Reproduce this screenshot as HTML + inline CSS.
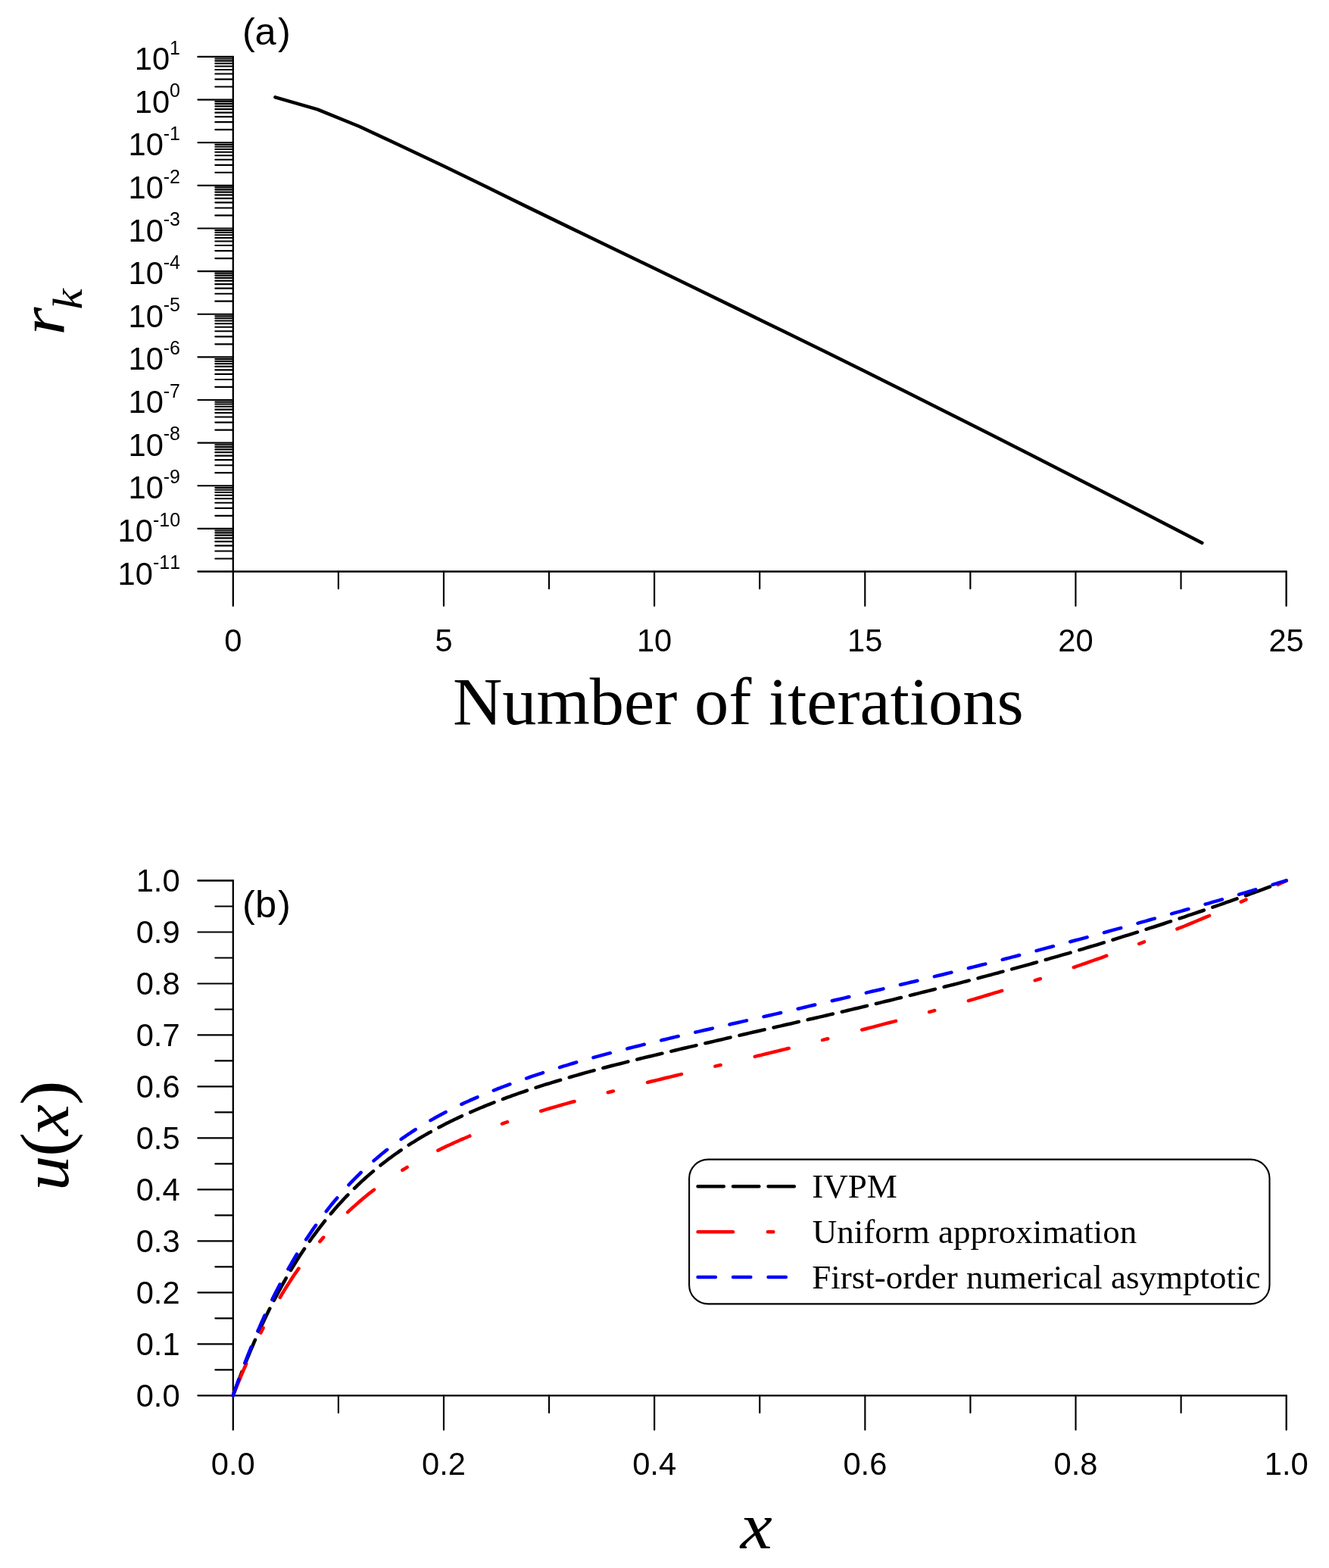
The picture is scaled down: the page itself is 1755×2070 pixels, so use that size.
<!DOCTYPE html>
<html lang="en"><head><meta charset="utf-8"><title>Figure</title>
<style>
html,body{margin:0;padding:0;background:#fff;overflow:hidden}
svg{display:block;font-kerning:none;font-variant-ligatures:none}
.sa{font-family:"Liberation Sans",sans-serif;fill:#000}
.se{font-family:"Liberation Serif",serif;fill:#000}
.cv{fill:none;stroke-width:4.5;stroke-linecap:round;stroke-linejoin:round}
</style></head>
<body>
<svg width="1755" height="2070" viewBox="0 0 1755 2070">
<rect width="1755" height="2070" fill="#fff"/>
<g id="plot-a">
<path d="M261.40 74.95 H307.80 V799.80" fill="none" stroke="#000" stroke-width="2.3" stroke-linecap="round" stroke-linejoin="miter"/>
<path d="M261.40 754.50 H1698.60 V799.80" fill="none" stroke="#000" stroke-width="2.3" stroke-linecap="round" stroke-linejoin="miter"/>
<line x1="284.30" y1="114.53" x2="307.80" y2="114.53" stroke="#000" stroke-width="2.15" stroke-linecap="round"/>
<line x1="284.30" y1="104.56" x2="307.80" y2="104.56" stroke="#000" stroke-width="2.15" stroke-linecap="round"/>
<line x1="284.30" y1="97.49" x2="307.80" y2="97.49" stroke="#000" stroke-width="2.15" stroke-linecap="round"/>
<line x1="284.30" y1="92.00" x2="307.80" y2="92.00" stroke="#000" stroke-width="2.15" stroke-linecap="round"/>
<line x1="284.30" y1="87.51" x2="307.80" y2="87.51" stroke="#000" stroke-width="2.15" stroke-linecap="round"/>
<line x1="284.30" y1="83.72" x2="307.80" y2="83.72" stroke="#000" stroke-width="2.15" stroke-linecap="round"/>
<line x1="284.30" y1="80.44" x2="307.80" y2="80.44" stroke="#000" stroke-width="2.15" stroke-linecap="round"/>
<line x1="284.30" y1="77.54" x2="307.80" y2="77.54" stroke="#000" stroke-width="2.15" stroke-linecap="round"/>
<text class="sa" transform="translate(238.00,92.05) scale(0.96,1)" font-size="43.4" text-anchor="end">10<tspan dy="-20.4" font-size="26.0">1</tspan></text>
<line x1="261.40" y1="131.58" x2="307.80" y2="131.58" stroke="#000" stroke-width="2.15" stroke-linecap="round"/>
<line x1="284.30" y1="171.16" x2="307.80" y2="171.16" stroke="#000" stroke-width="2.15" stroke-linecap="round"/>
<line x1="284.30" y1="161.19" x2="307.80" y2="161.19" stroke="#000" stroke-width="2.15" stroke-linecap="round"/>
<line x1="284.30" y1="154.11" x2="307.80" y2="154.11" stroke="#000" stroke-width="2.15" stroke-linecap="round"/>
<line x1="284.30" y1="148.63" x2="307.80" y2="148.63" stroke="#000" stroke-width="2.15" stroke-linecap="round"/>
<line x1="284.30" y1="144.14" x2="307.80" y2="144.14" stroke="#000" stroke-width="2.15" stroke-linecap="round"/>
<line x1="284.30" y1="140.35" x2="307.80" y2="140.35" stroke="#000" stroke-width="2.15" stroke-linecap="round"/>
<line x1="284.30" y1="137.07" x2="307.80" y2="137.07" stroke="#000" stroke-width="2.15" stroke-linecap="round"/>
<line x1="284.30" y1="134.17" x2="307.80" y2="134.17" stroke="#000" stroke-width="2.15" stroke-linecap="round"/>
<text class="sa" transform="translate(238.00,148.68) scale(0.96,1)" font-size="43.4" text-anchor="end">10<tspan dy="-20.4" font-size="26.0">0</tspan></text>
<line x1="261.40" y1="188.21" x2="307.80" y2="188.21" stroke="#000" stroke-width="2.15" stroke-linecap="round"/>
<line x1="284.30" y1="227.79" x2="307.80" y2="227.79" stroke="#000" stroke-width="2.15" stroke-linecap="round"/>
<line x1="284.30" y1="217.82" x2="307.80" y2="217.82" stroke="#000" stroke-width="2.15" stroke-linecap="round"/>
<line x1="284.30" y1="210.74" x2="307.80" y2="210.74" stroke="#000" stroke-width="2.15" stroke-linecap="round"/>
<line x1="284.30" y1="205.26" x2="307.80" y2="205.26" stroke="#000" stroke-width="2.15" stroke-linecap="round"/>
<line x1="284.30" y1="200.77" x2="307.80" y2="200.77" stroke="#000" stroke-width="2.15" stroke-linecap="round"/>
<line x1="284.30" y1="196.98" x2="307.80" y2="196.98" stroke="#000" stroke-width="2.15" stroke-linecap="round"/>
<line x1="284.30" y1="193.70" x2="307.80" y2="193.70" stroke="#000" stroke-width="2.15" stroke-linecap="round"/>
<line x1="284.30" y1="190.80" x2="307.80" y2="190.80" stroke="#000" stroke-width="2.15" stroke-linecap="round"/>
<text class="sa" transform="translate(238.00,205.31) scale(0.96,1)" font-size="43.4" text-anchor="end">10<tspan dy="-20.4" font-size="26.0">-1</tspan></text>
<line x1="261.40" y1="244.84" x2="307.80" y2="244.84" stroke="#000" stroke-width="2.15" stroke-linecap="round"/>
<line x1="284.30" y1="284.42" x2="307.80" y2="284.42" stroke="#000" stroke-width="2.15" stroke-linecap="round"/>
<line x1="284.30" y1="274.45" x2="307.80" y2="274.45" stroke="#000" stroke-width="2.15" stroke-linecap="round"/>
<line x1="284.30" y1="267.37" x2="307.80" y2="267.37" stroke="#000" stroke-width="2.15" stroke-linecap="round"/>
<line x1="284.30" y1="261.88" x2="307.80" y2="261.88" stroke="#000" stroke-width="2.15" stroke-linecap="round"/>
<line x1="284.30" y1="257.40" x2="307.80" y2="257.40" stroke="#000" stroke-width="2.15" stroke-linecap="round"/>
<line x1="284.30" y1="253.61" x2="307.80" y2="253.61" stroke="#000" stroke-width="2.15" stroke-linecap="round"/>
<line x1="284.30" y1="250.33" x2="307.80" y2="250.33" stroke="#000" stroke-width="2.15" stroke-linecap="round"/>
<line x1="284.30" y1="247.43" x2="307.80" y2="247.43" stroke="#000" stroke-width="2.15" stroke-linecap="round"/>
<text class="sa" transform="translate(238.00,261.94) scale(0.96,1)" font-size="43.4" text-anchor="end">10<tspan dy="-20.4" font-size="26.0">-2</tspan></text>
<line x1="261.40" y1="301.47" x2="307.80" y2="301.47" stroke="#000" stroke-width="2.15" stroke-linecap="round"/>
<line x1="284.30" y1="341.05" x2="307.80" y2="341.05" stroke="#000" stroke-width="2.15" stroke-linecap="round"/>
<line x1="284.30" y1="331.08" x2="307.80" y2="331.08" stroke="#000" stroke-width="2.15" stroke-linecap="round"/>
<line x1="284.30" y1="324.00" x2="307.80" y2="324.00" stroke="#000" stroke-width="2.15" stroke-linecap="round"/>
<line x1="284.30" y1="318.51" x2="307.80" y2="318.51" stroke="#000" stroke-width="2.15" stroke-linecap="round"/>
<line x1="284.30" y1="314.03" x2="307.80" y2="314.03" stroke="#000" stroke-width="2.15" stroke-linecap="round"/>
<line x1="284.30" y1="310.24" x2="307.80" y2="310.24" stroke="#000" stroke-width="2.15" stroke-linecap="round"/>
<line x1="284.30" y1="306.95" x2="307.80" y2="306.95" stroke="#000" stroke-width="2.15" stroke-linecap="round"/>
<line x1="284.30" y1="304.06" x2="307.80" y2="304.06" stroke="#000" stroke-width="2.15" stroke-linecap="round"/>
<text class="sa" transform="translate(238.00,318.57) scale(0.96,1)" font-size="43.4" text-anchor="end">10<tspan dy="-20.4" font-size="26.0">-3</tspan></text>
<line x1="261.40" y1="358.10" x2="307.80" y2="358.10" stroke="#000" stroke-width="2.15" stroke-linecap="round"/>
<line x1="284.30" y1="397.68" x2="307.80" y2="397.68" stroke="#000" stroke-width="2.15" stroke-linecap="round"/>
<line x1="284.30" y1="387.71" x2="307.80" y2="387.71" stroke="#000" stroke-width="2.15" stroke-linecap="round"/>
<line x1="284.30" y1="380.63" x2="307.80" y2="380.63" stroke="#000" stroke-width="2.15" stroke-linecap="round"/>
<line x1="284.30" y1="375.14" x2="307.80" y2="375.14" stroke="#000" stroke-width="2.15" stroke-linecap="round"/>
<line x1="284.30" y1="370.66" x2="307.80" y2="370.66" stroke="#000" stroke-width="2.15" stroke-linecap="round"/>
<line x1="284.30" y1="366.87" x2="307.80" y2="366.87" stroke="#000" stroke-width="2.15" stroke-linecap="round"/>
<line x1="284.30" y1="363.58" x2="307.80" y2="363.58" stroke="#000" stroke-width="2.15" stroke-linecap="round"/>
<line x1="284.30" y1="360.69" x2="307.80" y2="360.69" stroke="#000" stroke-width="2.15" stroke-linecap="round"/>
<text class="sa" transform="translate(238.00,375.20) scale(0.96,1)" font-size="43.4" text-anchor="end">10<tspan dy="-20.4" font-size="26.0">-4</tspan></text>
<line x1="261.40" y1="414.72" x2="307.80" y2="414.72" stroke="#000" stroke-width="2.15" stroke-linecap="round"/>
<line x1="284.30" y1="454.31" x2="307.80" y2="454.31" stroke="#000" stroke-width="2.15" stroke-linecap="round"/>
<line x1="284.30" y1="444.34" x2="307.80" y2="444.34" stroke="#000" stroke-width="2.15" stroke-linecap="round"/>
<line x1="284.30" y1="437.26" x2="307.80" y2="437.26" stroke="#000" stroke-width="2.15" stroke-linecap="round"/>
<line x1="284.30" y1="431.77" x2="307.80" y2="431.77" stroke="#000" stroke-width="2.15" stroke-linecap="round"/>
<line x1="284.30" y1="427.29" x2="307.80" y2="427.29" stroke="#000" stroke-width="2.15" stroke-linecap="round"/>
<line x1="284.30" y1="423.50" x2="307.80" y2="423.50" stroke="#000" stroke-width="2.15" stroke-linecap="round"/>
<line x1="284.30" y1="420.21" x2="307.80" y2="420.21" stroke="#000" stroke-width="2.15" stroke-linecap="round"/>
<line x1="284.30" y1="417.32" x2="307.80" y2="417.32" stroke="#000" stroke-width="2.15" stroke-linecap="round"/>
<text class="sa" transform="translate(238.00,431.82) scale(0.96,1)" font-size="43.4" text-anchor="end">10<tspan dy="-20.4" font-size="26.0">-5</tspan></text>
<line x1="261.40" y1="471.35" x2="307.80" y2="471.35" stroke="#000" stroke-width="2.15" stroke-linecap="round"/>
<line x1="284.30" y1="510.94" x2="307.80" y2="510.94" stroke="#000" stroke-width="2.15" stroke-linecap="round"/>
<line x1="284.30" y1="500.96" x2="307.80" y2="500.96" stroke="#000" stroke-width="2.15" stroke-linecap="round"/>
<line x1="284.30" y1="493.89" x2="307.80" y2="493.89" stroke="#000" stroke-width="2.15" stroke-linecap="round"/>
<line x1="284.30" y1="488.40" x2="307.80" y2="488.40" stroke="#000" stroke-width="2.15" stroke-linecap="round"/>
<line x1="284.30" y1="483.92" x2="307.80" y2="483.92" stroke="#000" stroke-width="2.15" stroke-linecap="round"/>
<line x1="284.30" y1="480.13" x2="307.80" y2="480.13" stroke="#000" stroke-width="2.15" stroke-linecap="round"/>
<line x1="284.30" y1="476.84" x2="307.80" y2="476.84" stroke="#000" stroke-width="2.15" stroke-linecap="round"/>
<line x1="284.30" y1="473.95" x2="307.80" y2="473.95" stroke="#000" stroke-width="2.15" stroke-linecap="round"/>
<text class="sa" transform="translate(238.00,488.45) scale(0.96,1)" font-size="43.4" text-anchor="end">10<tspan dy="-20.4" font-size="26.0">-6</tspan></text>
<line x1="261.40" y1="527.98" x2="307.80" y2="527.98" stroke="#000" stroke-width="2.15" stroke-linecap="round"/>
<line x1="284.30" y1="567.57" x2="307.80" y2="567.57" stroke="#000" stroke-width="2.15" stroke-linecap="round"/>
<line x1="284.30" y1="557.59" x2="307.80" y2="557.59" stroke="#000" stroke-width="2.15" stroke-linecap="round"/>
<line x1="284.30" y1="550.52" x2="307.80" y2="550.52" stroke="#000" stroke-width="2.15" stroke-linecap="round"/>
<line x1="284.30" y1="545.03" x2="307.80" y2="545.03" stroke="#000" stroke-width="2.15" stroke-linecap="round"/>
<line x1="284.30" y1="540.55" x2="307.80" y2="540.55" stroke="#000" stroke-width="2.15" stroke-linecap="round"/>
<line x1="284.30" y1="536.76" x2="307.80" y2="536.76" stroke="#000" stroke-width="2.15" stroke-linecap="round"/>
<line x1="284.30" y1="533.47" x2="307.80" y2="533.47" stroke="#000" stroke-width="2.15" stroke-linecap="round"/>
<line x1="284.30" y1="530.57" x2="307.80" y2="530.57" stroke="#000" stroke-width="2.15" stroke-linecap="round"/>
<text class="sa" transform="translate(238.00,545.08) scale(0.96,1)" font-size="43.4" text-anchor="end">10<tspan dy="-20.4" font-size="26.0">-7</tspan></text>
<line x1="261.40" y1="584.61" x2="307.80" y2="584.61" stroke="#000" stroke-width="2.15" stroke-linecap="round"/>
<line x1="284.30" y1="624.19" x2="307.80" y2="624.19" stroke="#000" stroke-width="2.15" stroke-linecap="round"/>
<line x1="284.30" y1="614.22" x2="307.80" y2="614.22" stroke="#000" stroke-width="2.15" stroke-linecap="round"/>
<line x1="284.30" y1="607.15" x2="307.80" y2="607.15" stroke="#000" stroke-width="2.15" stroke-linecap="round"/>
<line x1="284.30" y1="601.66" x2="307.80" y2="601.66" stroke="#000" stroke-width="2.15" stroke-linecap="round"/>
<line x1="284.30" y1="597.18" x2="307.80" y2="597.18" stroke="#000" stroke-width="2.15" stroke-linecap="round"/>
<line x1="284.30" y1="593.38" x2="307.80" y2="593.38" stroke="#000" stroke-width="2.15" stroke-linecap="round"/>
<line x1="284.30" y1="590.10" x2="307.80" y2="590.10" stroke="#000" stroke-width="2.15" stroke-linecap="round"/>
<line x1="284.30" y1="587.20" x2="307.80" y2="587.20" stroke="#000" stroke-width="2.15" stroke-linecap="round"/>
<text class="sa" transform="translate(238.00,601.71) scale(0.96,1)" font-size="43.4" text-anchor="end">10<tspan dy="-20.4" font-size="26.0">-8</tspan></text>
<line x1="261.40" y1="641.24" x2="307.80" y2="641.24" stroke="#000" stroke-width="2.15" stroke-linecap="round"/>
<line x1="284.30" y1="680.82" x2="307.80" y2="680.82" stroke="#000" stroke-width="2.15" stroke-linecap="round"/>
<line x1="284.30" y1="670.85" x2="307.80" y2="670.85" stroke="#000" stroke-width="2.15" stroke-linecap="round"/>
<line x1="284.30" y1="663.78" x2="307.80" y2="663.78" stroke="#000" stroke-width="2.15" stroke-linecap="round"/>
<line x1="284.30" y1="658.29" x2="307.80" y2="658.29" stroke="#000" stroke-width="2.15" stroke-linecap="round"/>
<line x1="284.30" y1="653.80" x2="307.80" y2="653.80" stroke="#000" stroke-width="2.15" stroke-linecap="round"/>
<line x1="284.30" y1="650.01" x2="307.80" y2="650.01" stroke="#000" stroke-width="2.15" stroke-linecap="round"/>
<line x1="284.30" y1="646.73" x2="307.80" y2="646.73" stroke="#000" stroke-width="2.15" stroke-linecap="round"/>
<line x1="284.30" y1="643.83" x2="307.80" y2="643.83" stroke="#000" stroke-width="2.15" stroke-linecap="round"/>
<text class="sa" transform="translate(238.00,658.34) scale(0.96,1)" font-size="43.4" text-anchor="end">10<tspan dy="-20.4" font-size="26.0">-9</tspan></text>
<line x1="261.40" y1="697.87" x2="307.80" y2="697.87" stroke="#000" stroke-width="2.15" stroke-linecap="round"/>
<line x1="284.30" y1="737.45" x2="307.80" y2="737.45" stroke="#000" stroke-width="2.15" stroke-linecap="round"/>
<line x1="284.30" y1="727.48" x2="307.80" y2="727.48" stroke="#000" stroke-width="2.15" stroke-linecap="round"/>
<line x1="284.30" y1="720.41" x2="307.80" y2="720.41" stroke="#000" stroke-width="2.15" stroke-linecap="round"/>
<line x1="284.30" y1="714.92" x2="307.80" y2="714.92" stroke="#000" stroke-width="2.15" stroke-linecap="round"/>
<line x1="284.30" y1="710.43" x2="307.80" y2="710.43" stroke="#000" stroke-width="2.15" stroke-linecap="round"/>
<line x1="284.30" y1="706.64" x2="307.80" y2="706.64" stroke="#000" stroke-width="2.15" stroke-linecap="round"/>
<line x1="284.30" y1="703.36" x2="307.80" y2="703.36" stroke="#000" stroke-width="2.15" stroke-linecap="round"/>
<line x1="284.30" y1="700.46" x2="307.80" y2="700.46" stroke="#000" stroke-width="2.15" stroke-linecap="round"/>
<text class="sa" transform="translate(238.00,714.97) scale(0.96,1)" font-size="43.4" text-anchor="end">10<tspan dy="-20.4" font-size="26.0">-10</tspan></text>
<text class="sa" transform="translate(238.00,771.60) scale(0.96,1)" font-size="43.4" text-anchor="end">10<tspan dy="-20.4" font-size="26.0">-11</tspan></text>
<text class="sa" transform="translate(307.80,859.90) scale(0.96,1)" font-size="43.4" text-anchor="middle">0</text>
<line x1="446.88" y1="754.50" x2="446.88" y2="777.10" stroke="#000" stroke-width="2.15" stroke-linecap="round"/>
<line x1="585.96" y1="754.50" x2="585.96" y2="799.80" stroke="#000" stroke-width="2.15" stroke-linecap="round"/>
<text class="sa" transform="translate(585.96,859.90) scale(0.96,1)" font-size="43.4" text-anchor="middle">5</text>
<line x1="725.04" y1="754.50" x2="725.04" y2="777.10" stroke="#000" stroke-width="2.15" stroke-linecap="round"/>
<line x1="864.12" y1="754.50" x2="864.12" y2="799.80" stroke="#000" stroke-width="2.15" stroke-linecap="round"/>
<text class="sa" transform="translate(864.12,859.90) scale(0.96,1)" font-size="43.4" text-anchor="middle">10</text>
<line x1="1003.20" y1="754.50" x2="1003.20" y2="777.10" stroke="#000" stroke-width="2.15" stroke-linecap="round"/>
<line x1="1142.28" y1="754.50" x2="1142.28" y2="799.80" stroke="#000" stroke-width="2.15" stroke-linecap="round"/>
<text class="sa" transform="translate(1142.28,859.90) scale(0.96,1)" font-size="43.4" text-anchor="middle">15</text>
<line x1="1281.36" y1="754.50" x2="1281.36" y2="777.10" stroke="#000" stroke-width="2.15" stroke-linecap="round"/>
<line x1="1420.44" y1="754.50" x2="1420.44" y2="799.80" stroke="#000" stroke-width="2.15" stroke-linecap="round"/>
<text class="sa" transform="translate(1420.44,859.90) scale(0.96,1)" font-size="43.4" text-anchor="middle">20</text>
<line x1="1559.52" y1="754.50" x2="1559.52" y2="777.10" stroke="#000" stroke-width="2.15" stroke-linecap="round"/>
<text class="sa" transform="translate(1698.60,859.90) scale(0.96,1)" font-size="43.4" text-anchor="middle">25</text>
<text class="sa" y="58.5" x="320 336.55 366.9" font-size="50.5">(a)</text>
<text class="se" transform="translate(597.9,955.9) scale(1.0191,1)" font-size="88.8">Number of iterations</text>
<text class="se" transform="translate(85,442.5) rotate(-90) scale(1.12,1)" font-size="85" font-style="italic" x="0">r<tspan x="30.3" dy="22.9" font-size="54.8">k</tspan></text>
<polyline fill="none" stroke="#000" stroke-width="4.5" stroke-linecap="round" stroke-linejoin="round" points="363.43,128.30 419.06,144.45 474.70,167.00 530.33,193.00 585.96,219.20 641.59,246.30 697.22,273.64 752.86,300.63 808.49,327.48 864.12,354.33 919.75,381.30 975.38,408.38 1031.02,435.53 1086.65,462.81 1142.28,490.30 1197.91,518.03 1253.54,545.96 1309.18,574.06 1364.81,602.30 1420.44,630.68 1476.07,659.22 1531.70,687.91 1587.34,716.75"/>
</g>
<g id="plot-b">
<path d="M261.40 1162.50 H307.80 V1887.60" fill="none" stroke="#000" stroke-width="2.3" stroke-linecap="round" stroke-linejoin="miter"/>
<path d="M261.40 1842.30 H1698.70 V1887.60" fill="none" stroke="#000" stroke-width="2.3" stroke-linecap="round" stroke-linejoin="miter"/>
<text class="sa" transform="translate(237.60,1177.40) scale(0.96,1)" font-size="43.4" text-anchor="end">1.0</text>
<line x1="284.30" y1="1196.49" x2="307.80" y2="1196.49" stroke="#000" stroke-width="2.15" stroke-linecap="round"/>
<line x1="261.40" y1="1230.48" x2="307.80" y2="1230.48" stroke="#000" stroke-width="2.15" stroke-linecap="round"/>
<text class="sa" transform="translate(237.60,1245.38) scale(0.96,1)" font-size="43.4" text-anchor="end">0.9</text>
<line x1="284.30" y1="1264.47" x2="307.80" y2="1264.47" stroke="#000" stroke-width="2.15" stroke-linecap="round"/>
<line x1="261.40" y1="1298.46" x2="307.80" y2="1298.46" stroke="#000" stroke-width="2.15" stroke-linecap="round"/>
<text class="sa" transform="translate(237.60,1313.36) scale(0.96,1)" font-size="43.4" text-anchor="end">0.8</text>
<line x1="284.30" y1="1332.45" x2="307.80" y2="1332.45" stroke="#000" stroke-width="2.15" stroke-linecap="round"/>
<line x1="261.40" y1="1366.44" x2="307.80" y2="1366.44" stroke="#000" stroke-width="2.15" stroke-linecap="round"/>
<text class="sa" transform="translate(237.60,1381.34) scale(0.96,1)" font-size="43.4" text-anchor="end">0.7</text>
<line x1="284.30" y1="1400.43" x2="307.80" y2="1400.43" stroke="#000" stroke-width="2.15" stroke-linecap="round"/>
<line x1="261.40" y1="1434.42" x2="307.80" y2="1434.42" stroke="#000" stroke-width="2.15" stroke-linecap="round"/>
<text class="sa" transform="translate(237.60,1449.32) scale(0.96,1)" font-size="43.4" text-anchor="end">0.6</text>
<line x1="284.30" y1="1468.41" x2="307.80" y2="1468.41" stroke="#000" stroke-width="2.15" stroke-linecap="round"/>
<line x1="261.40" y1="1502.40" x2="307.80" y2="1502.40" stroke="#000" stroke-width="2.15" stroke-linecap="round"/>
<text class="sa" transform="translate(237.60,1517.30) scale(0.96,1)" font-size="43.4" text-anchor="end">0.5</text>
<line x1="284.30" y1="1536.39" x2="307.80" y2="1536.39" stroke="#000" stroke-width="2.15" stroke-linecap="round"/>
<line x1="261.40" y1="1570.38" x2="307.80" y2="1570.38" stroke="#000" stroke-width="2.15" stroke-linecap="round"/>
<text class="sa" transform="translate(237.60,1585.28) scale(0.96,1)" font-size="43.4" text-anchor="end">0.4</text>
<line x1="284.30" y1="1604.37" x2="307.80" y2="1604.37" stroke="#000" stroke-width="2.15" stroke-linecap="round"/>
<line x1="261.40" y1="1638.36" x2="307.80" y2="1638.36" stroke="#000" stroke-width="2.15" stroke-linecap="round"/>
<text class="sa" transform="translate(237.60,1653.26) scale(0.96,1)" font-size="43.4" text-anchor="end">0.3</text>
<line x1="284.30" y1="1672.35" x2="307.80" y2="1672.35" stroke="#000" stroke-width="2.15" stroke-linecap="round"/>
<line x1="261.40" y1="1706.34" x2="307.80" y2="1706.34" stroke="#000" stroke-width="2.15" stroke-linecap="round"/>
<text class="sa" transform="translate(237.60,1721.24) scale(0.96,1)" font-size="43.4" text-anchor="end">0.2</text>
<line x1="284.30" y1="1740.33" x2="307.80" y2="1740.33" stroke="#000" stroke-width="2.15" stroke-linecap="round"/>
<line x1="261.40" y1="1774.32" x2="307.80" y2="1774.32" stroke="#000" stroke-width="2.15" stroke-linecap="round"/>
<text class="sa" transform="translate(237.60,1789.22) scale(0.96,1)" font-size="43.4" text-anchor="end">0.1</text>
<line x1="284.30" y1="1808.31" x2="307.80" y2="1808.31" stroke="#000" stroke-width="2.15" stroke-linecap="round"/>
<text class="sa" transform="translate(237.60,1857.20) scale(0.96,1)" font-size="43.4" text-anchor="end">0.0</text>
<text class="sa" transform="translate(307.80,1947.30) scale(0.96,1)" font-size="43.4" text-anchor="middle">0.0</text>
<line x1="446.89" y1="1842.30" x2="446.89" y2="1864.90" stroke="#000" stroke-width="2.15" stroke-linecap="round"/>
<line x1="585.98" y1="1842.30" x2="585.98" y2="1887.60" stroke="#000" stroke-width="2.15" stroke-linecap="round"/>
<text class="sa" transform="translate(585.98,1947.30) scale(0.96,1)" font-size="43.4" text-anchor="middle">0.2</text>
<line x1="725.07" y1="1842.30" x2="725.07" y2="1864.90" stroke="#000" stroke-width="2.15" stroke-linecap="round"/>
<line x1="864.16" y1="1842.30" x2="864.16" y2="1887.60" stroke="#000" stroke-width="2.15" stroke-linecap="round"/>
<text class="sa" transform="translate(864.16,1947.30) scale(0.96,1)" font-size="43.4" text-anchor="middle">0.4</text>
<line x1="1003.25" y1="1842.30" x2="1003.25" y2="1864.90" stroke="#000" stroke-width="2.15" stroke-linecap="round"/>
<line x1="1142.34" y1="1842.30" x2="1142.34" y2="1887.60" stroke="#000" stroke-width="2.15" stroke-linecap="round"/>
<text class="sa" transform="translate(1142.34,1947.30) scale(0.96,1)" font-size="43.4" text-anchor="middle">0.6</text>
<line x1="1281.43" y1="1842.30" x2="1281.43" y2="1864.90" stroke="#000" stroke-width="2.15" stroke-linecap="round"/>
<line x1="1420.52" y1="1842.30" x2="1420.52" y2="1887.60" stroke="#000" stroke-width="2.15" stroke-linecap="round"/>
<text class="sa" transform="translate(1420.52,1947.30) scale(0.96,1)" font-size="43.4" text-anchor="middle">0.8</text>
<line x1="1559.61" y1="1842.30" x2="1559.61" y2="1864.90" stroke="#000" stroke-width="2.15" stroke-linecap="round"/>
<text class="sa" transform="translate(1698.70,1947.30) scale(0.96,1)" font-size="43.4" text-anchor="middle">1.0</text>
<text class="sa" y="1211.1" x="320 336.95 366.9" font-size="50.5">(b)</text>
<text class="se" transform="translate(977.8,2044.1) scale(1.081,1)" font-size="87.6" font-style="italic">x</text>
<text class="se" transform="translate(90,1571) rotate(-90) scale(1.066,1)" font-size="90.5"><tspan x="-0.64" font-style="italic" font-size="86.3">u</tspan><tspan x="41.25">(</tspan><tspan x="67.65" font-style="italic" font-size="86.3">x</tspan><tspan x="105.3">)</tspan></text>
<g transform="scale(1.02,1)">
<polyline class="cv" stroke="#000" stroke-dasharray="33.41 12.02" stroke-dashoffset="0" points="301.8,1842.3 304.0,1835.9 306.3,1829.6 308.6,1823.4 310.9,1817.3 313.1,1811.3 315.4,1805.4 317.7,1799.6 319.9,1793.9 322.2,1788.3 324.5,1782.7 326.8,1777.3 329.0,1771.9 331.3,1766.6 333.6,1761.4 335.9,1756.3 338.1,1751.2 340.4,1746.3 342.7,1741.4 344.9,1736.6 347.2,1731.8 349.5,1727.1 351.8,1722.5 354.0,1718.0 356.3,1713.6 358.6,1709.2 360.9,1704.8 363.1,1700.6 365.4,1696.4 367.7,1692.3 369.9,1688.2 372.2,1684.2 374.5,1680.3 376.8,1676.4 379.0,1672.6 381.3,1668.8 383.6,1665.1 385.9,1661.4 388.1,1657.8 390.4,1654.3 392.7,1650.8 394.9,1647.4 397.2,1644.0 399.5,1640.6 401.8,1637.3 404.0,1634.1 406.3,1630.9 408.6,1627.8 410.9,1624.7 413.1,1621.6 415.4,1618.6 417.7,1615.6 419.9,1612.7 422.2,1609.8 424.5,1607.0 426.8,1604.2 429.0,1601.5 431.3,1598.7 433.6,1596.1 435.9,1593.4 438.1,1590.8 440.4,1588.3 442.7,1585.7 444.9,1583.2 447.2,1580.8 449.5,1578.4 451.8,1576.0 454.0,1573.6 456.3,1571.3 458.6,1569.0 460.9,1566.8 463.1,1564.6 465.4,1562.4 467.7,1560.2 469.9,1558.1 472.2,1556.0 474.5,1553.9 476.8,1551.9 479.0,1549.9 481.3,1547.9 483.6,1545.9 485.9,1544.0 488.1,1542.1 490.4,1540.2 492.7,1538.3 494.9,1536.5 497.2,1534.7 499.5,1532.9 501.8,1531.1 504.0,1529.4 506.3,1527.7 508.6,1526.0 510.9,1524.3 513.1,1522.7 515.4,1521.1 517.7,1519.4 519.9,1517.9 522.2,1516.3 524.5,1514.7 526.8,1513.2 529.0,1511.7 531.3,1510.2 533.6,1508.7 535.9,1507.3 538.1,1505.8 540.4,1504.4 542.7,1503.0 544.9,1501.6 547.2,1500.3 549.5,1498.9 551.8,1497.6 554.0,1496.3 556.3,1494.9 558.6,1493.7 560.9,1492.4 563.1,1491.1 565.4,1489.9 567.7,1488.6 569.9,1487.4 572.2,1486.2 574.5,1485.0 576.8,1483.8 579.0,1482.6 581.3,1481.5 583.6,1480.3 585.9,1479.2 588.1,1478.1 590.4,1477.0 592.7,1475.9 594.9,1474.8 597.2,1473.7 599.5,1472.6 601.8,1471.6 604.0,1470.5 606.3,1469.5 608.6,1468.5 610.9,1467.5 613.1,1466.5 615.4,1465.5 617.7,1464.5 619.9,1463.5 622.2,1462.5 624.5,1461.6 626.8,1460.6 629.0,1459.7 631.3,1458.7 633.6,1457.8 635.9,1456.9 638.1,1456.0 640.4,1455.1 642.7,1454.2 644.9,1453.3 647.2,1452.4 649.5,1451.5 651.8,1450.7 654.0,1449.8 656.3,1448.9 658.6,1448.1 660.9,1447.3 663.1,1446.4 665.4,1445.6 667.7,1444.8 669.9,1444.0 672.2,1443.2 674.5,1442.4 676.8,1441.6 679.0,1440.8 681.3,1440.0 683.6,1439.2 685.9,1438.4 688.1,1437.7 690.4,1436.9 692.7,1436.1 694.9,1435.4 697.2,1434.7 699.5,1433.9 701.8,1433.2 704.0,1432.4 706.3,1431.7 708.6,1431.0 710.9,1430.3 715.4,1428.9 719.9,1427.5 724.5,1426.1 729.0,1424.7 733.6,1423.3 738.1,1422.0 742.7,1420.6 747.2,1419.3 751.8,1418.0 756.3,1416.7 760.9,1415.4 765.4,1414.2 769.9,1412.9 774.5,1411.7 779.0,1410.4 783.6,1409.2 788.1,1408.0 792.7,1406.8 797.2,1405.6 801.8,1404.5 806.3,1403.3 810.9,1402.1 815.4,1401.0 819.9,1399.8 824.5,1398.7 829.0,1397.5 833.6,1396.4 838.1,1395.3 842.7,1394.2 847.2,1393.1 851.8,1392.0 856.3,1390.9 860.9,1389.8 865.4,1388.7 869.9,1387.6 874.5,1386.5 879.0,1385.4 883.6,1384.3 888.1,1383.2 892.7,1382.1 897.2,1381.1 901.8,1380.0 906.3,1378.9 910.9,1377.8 915.4,1376.8 919.9,1375.7 924.5,1374.6 929.0,1373.5 933.6,1372.5 938.1,1371.4 942.7,1370.3 947.2,1369.2 951.8,1368.2 956.3,1367.1 960.9,1366.0 965.4,1365.0 969.9,1363.9 974.5,1362.8 979.0,1361.8 983.6,1360.7 988.1,1359.6 992.7,1358.6 997.2,1357.5 1001.8,1356.5 1006.3,1355.4 1010.9,1354.4 1015.4,1353.3 1019.9,1352.2 1024.5,1351.2 1029.0,1350.1 1033.6,1349.0 1038.1,1348.0 1042.7,1346.9 1047.2,1345.8 1051.8,1344.8 1056.3,1343.7 1060.9,1342.6 1065.4,1341.6 1069.9,1340.5 1074.5,1339.4 1079.0,1338.3 1083.6,1337.2 1088.1,1336.2 1092.7,1335.1 1097.2,1334.0 1101.8,1332.9 1106.3,1331.8 1110.9,1330.7 1115.4,1329.6 1119.9,1328.5 1124.5,1327.4 1129.0,1326.3 1133.6,1325.2 1138.1,1324.1 1142.7,1322.9 1147.2,1321.8 1151.8,1320.7 1156.3,1319.6 1160.8,1318.4 1165.4,1317.3 1169.9,1316.2 1174.5,1315.0 1179.0,1313.9 1183.6,1312.7 1188.1,1311.6 1192.7,1310.4 1197.2,1309.3 1201.8,1308.1 1206.3,1307.0 1210.8,1305.8 1215.4,1304.7 1219.9,1303.5 1224.5,1302.3 1229.0,1301.1 1233.6,1300.0 1238.1,1298.8 1242.7,1297.6 1247.2,1296.4 1251.8,1295.2 1256.3,1294.0 1260.8,1292.8 1265.4,1291.6 1269.9,1290.3 1274.5,1289.1 1279.0,1287.9 1283.6,1286.7 1288.1,1285.4 1292.7,1284.2 1297.2,1282.9 1301.8,1281.7 1306.3,1280.4 1310.8,1279.2 1315.4,1277.9 1319.9,1276.6 1324.5,1275.4 1329.0,1274.1 1333.6,1272.8 1338.1,1271.5 1342.7,1270.2 1347.2,1268.9 1351.8,1267.6 1356.3,1266.3 1360.8,1264.9 1365.4,1263.6 1369.9,1262.3 1374.5,1260.9 1379.0,1259.6 1383.6,1258.3 1388.1,1256.9 1392.7,1255.5 1397.2,1254.2 1401.8,1252.8 1406.3,1251.4 1410.8,1250.0 1415.4,1248.7 1419.9,1247.3 1424.5,1245.8 1429.0,1244.4 1433.6,1243.0 1438.1,1241.6 1442.7,1240.1 1447.2,1238.7 1451.8,1237.2 1456.3,1235.7 1460.8,1234.3 1465.4,1232.8 1469.9,1231.4 1474.5,1229.9 1479.0,1228.4 1483.6,1226.9 1488.1,1225.4 1492.7,1224.0 1497.2,1222.5 1501.8,1221.0 1506.3,1219.5 1510.8,1217.9 1515.4,1216.4 1519.9,1214.9 1524.5,1213.4 1529.0,1211.8 1533.6,1210.3 1538.1,1208.7 1542.7,1207.2 1547.2,1205.6 1551.8,1204.0 1556.3,1202.5 1560.8,1200.9 1565.4,1199.3 1569.9,1197.7 1574.5,1196.1 1579.0,1194.5 1583.6,1192.8 1588.1,1191.2 1592.7,1189.6 1597.2,1187.9 1601.8,1186.3 1606.3,1184.6 1610.8,1183.0 1615.4,1181.3 1619.9,1179.6 1624.5,1178.0 1629.0,1176.3 1633.6,1174.6 1638.1,1172.9 1642.7,1171.2 1647.2,1169.4 1651.8,1167.7 1656.3,1166.0 1660.8,1164.3 1665.4,1162.5"/>
<polyline class="cv" stroke="#f00" stroke-dasharray="45.33 44.85 7.23 45.73" stroke-dashoffset="0" points="301.8,1842.3 304.0,1836.4 306.3,1830.6 308.6,1824.9 310.9,1819.3 313.1,1813.8 315.4,1808.3 317.7,1803.0 319.9,1797.7 322.2,1792.5 324.5,1787.4 326.8,1782.4 329.0,1777.4 331.3,1772.6 333.6,1767.8 335.9,1763.1 338.1,1758.4 340.4,1753.8 342.7,1749.3 344.9,1744.9 347.2,1740.5 349.5,1736.2 351.8,1732.0 354.0,1727.8 356.3,1723.7 358.6,1719.7 360.9,1715.7 363.1,1711.8 365.4,1707.9 367.7,1704.1 369.9,1700.4 372.2,1696.7 374.5,1693.1 376.8,1689.5 379.0,1686.0 381.3,1682.6 383.6,1679.2 385.9,1675.8 388.1,1672.5 390.4,1669.3 392.7,1666.1 394.9,1663.1 397.2,1660.0 399.5,1657.1 401.8,1654.1 404.0,1651.3 406.3,1648.5 408.6,1645.7 410.9,1642.9 413.1,1640.2 415.4,1637.5 417.7,1634.8 419.9,1632.2 422.2,1629.6 424.5,1627.0 426.8,1624.4 429.0,1621.9 431.3,1619.5 433.6,1617.0 435.9,1614.6 438.1,1612.3 440.4,1609.9 442.7,1607.6 444.9,1605.3 447.2,1603.1 449.5,1600.9 451.8,1598.7 454.0,1596.6 456.3,1594.4 458.6,1592.4 460.9,1590.3 463.1,1588.3 465.4,1586.3 467.7,1584.3 469.9,1582.3 472.2,1580.4 474.5,1578.5 476.8,1576.6 479.0,1574.8 481.3,1573.0 483.6,1571.2 485.9,1569.4 488.1,1567.7 490.4,1566.0 492.7,1564.3 494.9,1562.6 497.2,1560.9 499.5,1559.3 501.8,1557.7 504.0,1556.1 506.3,1554.5 508.6,1552.9 510.9,1551.4 513.1,1549.9 515.4,1548.4 517.7,1546.9 519.9,1545.4 522.2,1544.0 524.5,1542.6 526.8,1541.1 529.0,1539.7 531.3,1538.4 533.6,1537.0 535.9,1535.7 538.1,1534.3 540.4,1533.0 542.7,1531.7 544.9,1530.4 547.2,1529.2 549.5,1527.9 551.8,1526.7 554.0,1525.5 556.3,1524.2 558.6,1523.0 560.9,1521.9 563.1,1520.7 565.4,1519.5 567.7,1518.4 569.9,1517.2 572.2,1516.1 574.5,1515.0 576.8,1513.9 579.0,1512.8 581.3,1511.7 583.6,1510.7 585.9,1509.6 588.1,1508.5 590.4,1507.5 592.7,1506.5 594.9,1505.5 597.2,1504.4 599.5,1503.4 601.8,1502.5 604.0,1501.5 606.3,1500.5 608.6,1499.5 610.9,1498.6 613.1,1497.6 615.4,1496.7 617.7,1495.8 619.9,1494.9 622.2,1494.0 624.5,1493.1 626.8,1492.2 629.0,1491.3 631.3,1490.4 633.6,1489.5 635.9,1488.7 638.1,1487.8 640.4,1487.0 642.7,1486.1 644.9,1485.3 647.2,1484.5 649.5,1483.7 651.8,1482.9 654.0,1482.1 656.3,1481.3 658.6,1480.5 660.9,1479.7 663.1,1478.9 665.4,1478.1 667.7,1477.3 669.9,1476.6 672.2,1475.8 674.5,1475.1 676.8,1474.3 679.0,1473.5 681.3,1472.8 683.6,1472.1 685.9,1471.3 688.1,1470.6 690.4,1469.9 692.7,1469.1 694.9,1468.4 697.2,1467.7 699.5,1467.0 701.8,1466.3 704.0,1465.6 706.3,1464.9 708.6,1464.2 710.9,1463.5 715.4,1462.1 719.9,1460.8 724.5,1459.5 729.0,1458.1 733.6,1456.8 738.1,1455.5 742.7,1454.3 747.2,1453.0 751.8,1451.7 756.3,1450.5 760.9,1449.2 765.4,1448.0 769.9,1446.8 774.5,1445.6 779.0,1444.4 783.6,1443.2 788.1,1442.0 792.7,1440.8 797.2,1439.6 801.8,1438.4 806.3,1437.2 810.9,1436.0 815.4,1434.8 819.9,1433.6 824.5,1432.4 829.0,1431.3 833.6,1430.1 838.1,1429.0 842.7,1427.8 847.2,1426.7 851.8,1425.6 856.3,1424.5 860.9,1423.3 865.4,1422.2 869.9,1421.1 874.5,1420.0 879.0,1418.9 883.6,1417.8 888.1,1416.7 892.7,1415.7 897.2,1414.6 901.8,1413.5 906.3,1412.4 910.9,1411.3 915.4,1410.2 919.9,1409.1 924.5,1408.0 929.0,1406.9 933.6,1405.8 938.1,1404.7 942.7,1403.5 947.2,1402.4 951.8,1401.3 956.3,1400.1 960.9,1399.0 965.4,1397.8 969.9,1396.7 974.5,1395.6 979.0,1394.4 983.6,1393.3 988.1,1392.1 992.7,1391.0 997.2,1389.9 1001.8,1388.7 1006.3,1387.6 1010.9,1386.5 1015.4,1385.4 1019.9,1384.3 1024.5,1383.1 1029.0,1382.0 1033.6,1380.9 1038.1,1379.8 1042.7,1378.6 1047.2,1377.5 1051.8,1376.3 1056.3,1375.2 1060.9,1374.1 1065.4,1372.9 1069.9,1371.7 1074.5,1370.6 1079.0,1369.4 1083.6,1368.2 1088.1,1367.0 1092.7,1365.8 1097.2,1364.6 1101.8,1363.4 1106.3,1362.1 1110.9,1360.9 1115.4,1359.7 1119.9,1358.5 1124.5,1357.3 1129.0,1356.1 1133.6,1354.8 1138.1,1353.6 1142.7,1352.4 1147.2,1351.2 1151.8,1350.0 1156.3,1348.8 1160.8,1347.6 1165.4,1346.4 1169.9,1345.1 1174.5,1343.9 1179.0,1342.6 1183.6,1341.4 1188.1,1340.1 1192.7,1338.9 1197.2,1337.6 1201.8,1336.3 1206.3,1335.1 1210.8,1333.8 1215.4,1332.5 1219.9,1331.2 1224.5,1329.9 1229.0,1328.5 1233.6,1327.2 1238.1,1325.9 1242.7,1324.5 1247.2,1323.2 1251.8,1321.8 1256.3,1320.4 1260.8,1319.1 1265.4,1317.7 1269.9,1316.3 1274.5,1314.9 1279.0,1313.5 1283.6,1312.1 1288.1,1310.7 1292.7,1309.3 1297.2,1307.9 1301.8,1306.5 1306.3,1305.1 1310.8,1303.6 1315.4,1302.2 1319.9,1300.7 1324.5,1299.3 1329.0,1297.8 1333.6,1296.3 1338.1,1294.9 1342.7,1293.4 1347.2,1291.9 1351.8,1290.3 1356.3,1288.8 1360.8,1287.2 1365.4,1285.7 1369.9,1284.1 1374.5,1282.5 1379.0,1280.9 1383.6,1279.3 1388.1,1277.7 1392.7,1276.1 1397.2,1274.5 1401.8,1272.9 1406.3,1271.3 1410.8,1269.7 1415.4,1268.0 1419.9,1266.4 1424.5,1264.8 1429.0,1263.1 1433.6,1261.4 1438.1,1259.8 1442.7,1258.1 1447.2,1256.4 1451.8,1254.7 1456.3,1253.0 1460.8,1251.3 1465.4,1249.5 1469.9,1247.8 1474.5,1246.1 1479.0,1244.3 1483.6,1242.5 1488.1,1240.8 1492.7,1239.0 1497.2,1237.2 1501.8,1235.4 1506.3,1233.6 1510.8,1231.7 1515.4,1229.9 1519.9,1228.1 1524.5,1226.2 1529.0,1224.3 1533.6,1222.5 1538.1,1220.6 1542.7,1218.7 1547.2,1216.8 1551.8,1214.8 1556.3,1212.9 1560.8,1210.9 1565.4,1209.0 1569.9,1207.0 1574.5,1205.0 1579.0,1203.0 1583.6,1201.0 1588.1,1199.0 1592.7,1196.9 1597.2,1194.9 1601.8,1192.8 1606.3,1190.8 1610.8,1188.7 1615.4,1186.6 1619.9,1184.5 1624.5,1182.3 1629.0,1180.2 1633.6,1178.0 1638.1,1175.8 1642.7,1173.7 1647.2,1171.5 1651.8,1169.2 1656.3,1167.0 1660.8,1164.8 1665.4,1162.5"/>
<polyline class="cv" stroke="#00f" stroke-dasharray="22.67 22.77" stroke-dashoffset="0" points="301.8,1842.3 304.0,1835.6 306.3,1829.0 308.6,1822.6 310.9,1816.2 313.1,1809.9 315.4,1803.7 317.7,1797.6 319.9,1791.7 322.2,1785.8 324.5,1780.0 326.8,1774.2 329.0,1768.6 331.3,1763.1 333.6,1757.6 335.9,1752.3 338.1,1747.0 340.4,1741.8 342.7,1736.7 344.9,1731.7 347.2,1726.7 349.5,1721.8 351.8,1717.0 354.0,1712.3 356.3,1707.6 358.6,1703.0 360.9,1698.5 363.1,1694.1 365.4,1689.7 367.7,1685.4 369.9,1681.1 372.2,1676.9 374.5,1672.8 376.8,1668.8 379.0,1664.8 381.3,1660.8 383.6,1656.9 385.9,1653.1 388.1,1649.4 390.4,1645.7 392.7,1642.0 394.9,1638.4 397.2,1634.9 399.5,1631.4 401.8,1628.0 404.0,1624.6 406.3,1621.3 408.6,1618.0 410.9,1614.7 413.1,1611.6 415.4,1608.4 417.7,1605.3 419.9,1602.3 422.2,1599.3 424.5,1596.3 426.8,1593.4 429.0,1590.5 431.3,1587.7 433.6,1584.9 435.9,1582.2 438.1,1579.4 440.4,1576.8 442.7,1574.1 444.9,1571.5 447.2,1569.0 449.5,1566.5 451.8,1564.0 454.0,1561.5 456.3,1559.1 458.6,1556.7 460.9,1554.4 463.1,1552.1 465.4,1549.8 467.7,1547.5 469.9,1545.3 472.2,1543.1 474.5,1541.0 476.8,1538.9 479.0,1536.8 481.3,1534.7 483.6,1532.7 485.9,1530.6 488.1,1528.7 490.4,1526.7 492.7,1524.8 494.9,1522.9 497.2,1521.0 499.5,1519.1 501.8,1517.3 504.0,1515.5 506.3,1513.7 508.6,1511.9 510.9,1510.2 513.1,1508.5 515.4,1506.8 517.7,1505.1 519.9,1503.5 522.2,1501.9 524.5,1500.3 526.8,1498.7 529.0,1497.1 531.3,1495.6 533.6,1494.0 535.9,1492.5 538.1,1491.0 540.4,1489.6 542.7,1488.1 544.9,1486.7 547.2,1485.3 549.5,1483.9 551.8,1482.5 554.0,1481.1 556.3,1479.8 558.6,1478.4 560.9,1477.1 563.1,1475.8 565.4,1474.5 567.7,1473.2 569.9,1472.0 572.2,1470.7 574.5,1469.5 576.8,1468.3 579.0,1467.1 581.3,1465.9 583.6,1464.7 585.9,1463.6 588.1,1462.4 590.4,1461.3 592.7,1460.2 594.9,1459.1 597.2,1458.0 599.5,1456.9 601.8,1455.8 604.0,1454.7 606.3,1453.7 608.6,1452.6 610.9,1451.6 613.1,1450.6 615.4,1449.6 617.7,1448.6 619.9,1447.6 622.2,1446.6 624.5,1445.6 626.8,1444.6 629.0,1443.7 631.3,1442.7 633.6,1441.8 635.9,1440.9 638.1,1439.9 640.4,1439.0 642.7,1438.1 644.9,1437.2 647.2,1436.3 649.5,1435.4 651.8,1434.5 654.0,1433.7 656.3,1432.8 658.6,1431.9 660.9,1431.1 663.1,1430.2 665.4,1429.4 667.7,1428.5 669.9,1427.7 672.2,1426.9 674.5,1426.0 676.8,1425.2 679.0,1424.4 681.3,1423.6 683.6,1422.8 685.9,1422.0 688.1,1421.2 690.4,1420.4 692.7,1419.7 694.9,1418.9 697.2,1418.1 699.5,1417.3 701.8,1416.6 704.0,1415.8 706.3,1415.0 708.6,1414.3 710.9,1413.5 715.4,1412.1 719.9,1410.6 724.5,1409.1 729.0,1407.7 733.6,1406.3 738.1,1404.9 742.7,1403.5 747.2,1402.1 751.8,1400.8 756.3,1399.5 760.9,1398.2 765.4,1396.9 769.9,1395.6 774.5,1394.4 779.0,1393.1 783.6,1391.9 788.1,1390.7 792.7,1389.5 797.2,1388.3 801.8,1387.1 806.3,1385.9 810.9,1384.7 815.4,1383.5 819.9,1382.4 824.5,1381.2 829.0,1380.1 833.6,1378.9 838.1,1377.8 842.7,1376.7 847.2,1375.6 851.8,1374.4 856.3,1373.3 860.9,1372.2 865.4,1371.1 869.9,1370.0 874.5,1368.9 879.0,1367.8 883.6,1366.7 888.1,1365.7 892.7,1364.6 897.2,1363.5 901.8,1362.4 906.3,1361.4 910.9,1360.3 915.4,1359.2 919.9,1358.2 924.5,1357.1 929.0,1356.0 933.6,1355.0 938.1,1353.9 942.7,1352.9 947.2,1351.8 951.8,1350.7 956.3,1349.7 960.9,1348.6 965.4,1347.6 969.9,1346.5 974.5,1345.5 979.0,1344.4 983.6,1343.4 988.1,1342.3 992.7,1341.2 997.2,1340.2 1001.8,1339.1 1006.3,1338.1 1010.9,1337.0 1015.4,1335.9 1019.9,1334.9 1024.5,1333.8 1029.0,1332.7 1033.6,1331.7 1038.1,1330.6 1042.7,1329.5 1047.2,1328.4 1051.8,1327.3 1056.3,1326.3 1060.9,1325.2 1065.4,1324.1 1069.9,1323.0 1074.5,1321.9 1079.0,1320.8 1083.6,1319.7 1088.1,1318.7 1092.7,1317.6 1097.2,1316.5 1101.8,1315.4 1106.3,1314.3 1110.9,1313.2 1115.4,1312.1 1119.9,1311.0 1124.5,1309.9 1129.0,1308.8 1133.6,1307.8 1138.1,1306.7 1142.7,1305.6 1147.2,1304.5 1151.8,1303.4 1156.3,1302.3 1160.8,1301.2 1165.4,1300.1 1169.9,1299.0 1174.5,1297.9 1179.0,1296.8 1183.6,1295.7 1188.1,1294.6 1192.7,1293.4 1197.2,1292.3 1201.8,1291.2 1206.3,1290.1 1210.8,1288.9 1215.4,1287.8 1219.9,1286.7 1224.5,1285.5 1229.0,1284.4 1233.6,1283.3 1238.1,1282.1 1242.7,1281.0 1247.2,1279.8 1251.8,1278.7 1256.3,1277.5 1260.8,1276.4 1265.4,1275.2 1269.9,1274.0 1274.5,1272.9 1279.0,1271.7 1283.6,1270.5 1288.1,1269.3 1292.7,1268.2 1297.2,1267.0 1301.8,1265.8 1306.3,1264.6 1310.8,1263.4 1315.4,1262.2 1319.9,1261.0 1324.5,1259.8 1329.0,1258.6 1333.6,1257.3 1338.1,1256.1 1342.7,1254.9 1347.2,1253.7 1351.8,1252.4 1356.3,1251.2 1360.8,1250.0 1365.4,1248.7 1369.9,1247.5 1374.5,1246.3 1379.0,1245.0 1383.6,1243.8 1388.1,1242.5 1392.7,1241.3 1397.2,1240.1 1401.8,1238.8 1406.3,1237.6 1410.8,1236.3 1415.4,1235.0 1419.9,1233.8 1424.5,1232.5 1429.0,1231.3 1433.6,1230.0 1438.1,1228.7 1442.7,1227.4 1447.2,1226.2 1451.8,1224.9 1456.3,1223.6 1460.8,1222.3 1465.4,1221.0 1469.9,1219.7 1474.5,1218.4 1479.0,1217.1 1483.6,1215.8 1488.1,1214.5 1492.7,1213.2 1497.2,1211.9 1501.8,1210.6 1506.3,1209.3 1510.8,1208.0 1515.4,1206.7 1519.9,1205.4 1524.5,1204.1 1529.0,1202.8 1533.6,1201.5 1538.1,1200.2 1542.7,1198.9 1547.2,1197.6 1551.8,1196.3 1556.3,1194.9 1560.8,1193.6 1565.4,1192.3 1569.9,1190.9 1574.5,1189.6 1579.0,1188.3 1583.6,1186.9 1588.1,1185.6 1592.7,1184.2 1597.2,1182.9 1601.8,1181.5 1606.3,1180.2 1610.8,1178.8 1615.4,1177.5 1619.9,1176.1 1624.5,1174.7 1629.0,1173.4 1633.6,1172.0 1638.1,1170.7 1642.7,1169.3 1647.2,1168.0 1651.8,1166.6 1656.3,1165.2 1660.8,1163.9 1665.4,1162.5"/>
</g>
</g>
<g id="legend">
<rect x="910.1" y="1530.6" width="766.4" height="190.8" rx="25" ry="25" fill="#fff" stroke="#000" stroke-width="2.1"/>
<line class="cv" transform="scale(1.0235,1)" x1="900.44" y1="1566.3" x2="1036.64" y2="1566.3" stroke="#000" stroke-dasharray="33.41 12.02"/>
<line class="cv" transform="scale(1.0235,1)" x1="900.44" y1="1626.2" x2="1036.64" y2="1626.2" stroke="#f00" stroke-dasharray="45.33 44.85 7.23 45.73"/>
<line class="cv" transform="scale(1.0235,1)" x1="900.44" y1="1685.9" x2="1036.64" y2="1685.9" stroke="#00f" stroke-dasharray="22.67 22.77"/>
<text class="se" x="1072.2" y="1581.1" font-size="45">IVPM</text>
<text class="se" x="1072.7" y="1641.1" font-size="45">Uniform approximation</text>
<text class="se" x="1072.2" y="1700.9" font-size="45">First-order numerical asymptotic</text>
</g>
</svg>
</body></html>
